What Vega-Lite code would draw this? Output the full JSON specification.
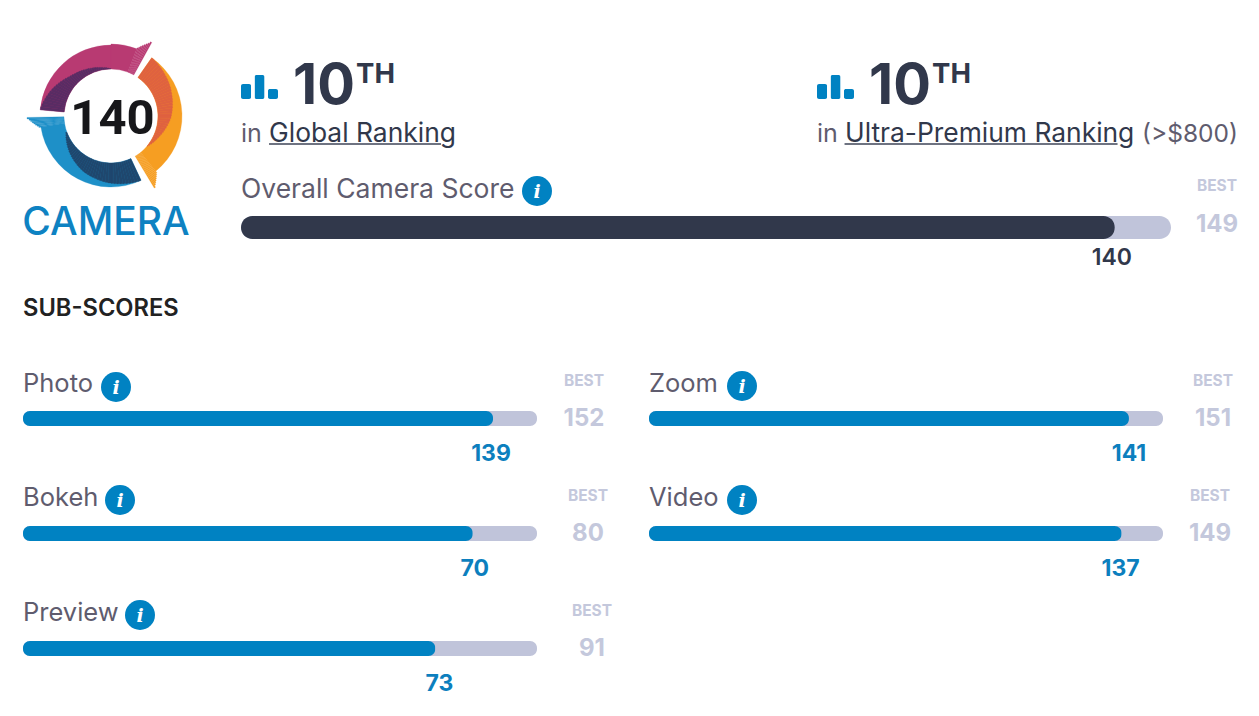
{"$schema":"https://vega.github.io/schema/vega-lite/v6.json","background":"white","padding":{"left":22,"top":28,"right":0,"bottom":0},"config":{"view":{"stroke":null},"text":{"font":"Inter","baseline":"alphabetic"}},"bounds":"flush","spacing":115,"vconcat":[
{"bounds":"flush","spacing":42,"hconcat":[
{"width":176,"height":176,"layer":[
{"data":{"values":[
{"part":"magenta","start":275,"end":360,"outer":71,"inner":47},{"part":"magenta","start":0,"end":21,"outer":72,"inner":47},{"part":"magenta","start":21,"end":22,"outer":73,"inner":47},{"part":"magenta","start":22,"end":23,"outer":74.5,"inner":47},{"part":"magenta","start":23,"end":24,"outer":76,"inner":47},{"part":"magenta","start":24,"end":25,"outer":77.5,"inner":47},{"part":"magenta","start":25,"end":26,"outer":79,"inner":47},{"part":"magenta","start":26,"end":27,"outer":80.5,"inner":47},{"part":"magenta","start":27,"end":28,"outer":82,"inner":47},{"part":"magenta","start":28,"end":29,"outer":84,"inner":47},
{"part":"orange","start":35,"end":141,"outer":71,"inner":47},{"part":"orange","start":141,"end":142,"outer":73,"inner":47},{"part":"orange","start":142,"end":143,"outer":74.5,"inner":47},{"part":"orange","start":143,"end":144,"outer":76,"inner":47},{"part":"orange","start":144,"end":145,"outer":77.5,"inner":47},{"part":"orange","start":145,"end":146,"outer":79,"inner":47},{"part":"orange","start":146,"end":147,"outer":80.5,"inner":47},{"part":"orange","start":147,"end":148,"outer":82,"inner":47},{"part":"orange","start":148,"end":149,"outer":84,"inner":47},
{"part":"blue","start":155,"end":261,"outer":71,"inner":47},{"part":"blue","start":261,"end":262,"outer":73,"inner":47},{"part":"blue","start":262,"end":263,"outer":74.5,"inner":47},{"part":"blue","start":263,"end":264,"outer":76,"inner":47},{"part":"blue","start":264,"end":265,"outer":77.5,"inner":47},{"part":"blue","start":265,"end":266,"outer":79,"inner":47},{"part":"blue","start":266,"end":267,"outer":80.5,"inner":47},{"part":"blue","start":267,"end":268,"outer":82,"inner":47},{"part":"blue","start":268,"end":269,"outer":84,"inner":47},
{"part":"purple","start":275,"end":277.5,"outer":71,"inner":47},{"part":"purple","start":277.5,"end":280,"outer":70.1,"inner":47},{"part":"purple","start":280,"end":282.5,"outer":69.3,"inner":47},{"part":"purple","start":282.5,"end":285,"outer":68.4,"inner":47},{"part":"purple","start":285,"end":287.5,"outer":67.6,"inner":47},{"part":"purple","start":287.5,"end":290,"outer":66.7,"inner":47},{"part":"purple","start":290,"end":292.5,"outer":65.9,"inner":47},{"part":"purple","start":292.5,"end":295,"outer":64.9,"inner":47},{"part":"purple","start":295,"end":297.5,"outer":64,"inner":47},{"part":"purple","start":297.5,"end":300,"outer":63,"inner":47},{"part":"purple","start":300,"end":302.5,"outer":62,"inner":47},{"part":"purple","start":302.5,"end":305,"outer":61.1,"inner":47},{"part":"purple","start":305,"end":307.5,"outer":60.1,"inner":47},{"part":"purple","start":307.5,"end":310,"outer":59.1,"inner":47},{"part":"purple","start":310,"end":312.5,"outer":58.2,"inner":47},{"part":"purple","start":312.5,"end":315,"outer":57.2,"inner":47},{"part":"purple","start":315,"end":317.5,"outer":56.5,"inner":47},{"part":"purple","start":317.5,"end":320,"outer":55.9,"inner":47},{"part":"purple","start":320,"end":322.5,"outer":55.4,"inner":47},{"part":"purple","start":322.5,"end":325,"outer":54.8,"inner":47},{"part":"purple","start":325,"end":327.5,"outer":54.3,"inner":47},{"part":"purple","start":327.5,"end":330,"outer":53.7,"inner":47},{"part":"purple","start":330,"end":332.5,"outer":53.1,"inner":47},{"part":"purple","start":332.5,"end":335,"outer":52.6,"inner":47},{"part":"purple","start":335,"end":337.5,"outer":52,"inner":47},{"part":"purple","start":337.5,"end":340,"outer":51.5,"inner":47},{"part":"purple","start":340,"end":342.5,"outer":51,"inner":47},{"part":"purple","start":342.5,"end":345,"outer":50.5,"inner":47},{"part":"purple","start":345,"end":347.5,"outer":50,"inner":47},{"part":"purple","start":347.5,"end":350,"outer":49.5,"inner":47},{"part":"purple","start":350,"end":352.5,"outer":49,"inner":47},{"part":"purple","start":352.5,"end":355,"outer":48.6,"inner":47},{"part":"purple","start":355,"end":357.5,"outer":48.1,"inner":47},{"part":"purple","start":357.5,"end":360,"outer":47.5,"inner":47},
{"part":"coral","start":35,"end":37.5,"outer":71,"inner":47},{"part":"coral","start":37.5,"end":40,"outer":70.5,"inner":47},{"part":"coral","start":40,"end":42.5,"outer":70.1,"inner":47},{"part":"coral","start":42.5,"end":45,"outer":69.6,"inner":47},{"part":"coral","start":45,"end":47.5,"outer":69.2,"inner":47},{"part":"coral","start":47.5,"end":50,"outer":68.7,"inner":47},{"part":"coral","start":50,"end":52.5,"outer":68.3,"inner":47},{"part":"coral","start":52.5,"end":55,"outer":67.8,"inner":47},{"part":"coral","start":55,"end":57.5,"outer":67.4,"inner":47},{"part":"coral","start":57.5,"end":60,"outer":66.9,"inner":47},{"part":"coral","start":60,"end":62.5,"outer":66.5,"inner":47},{"part":"coral","start":62.5,"end":65,"outer":66,"inner":47},{"part":"coral","start":65,"end":67.5,"outer":65.4,"inner":47},{"part":"coral","start":67.5,"end":70,"outer":64.9,"inner":47},{"part":"coral","start":70,"end":72.5,"outer":64.3,"inner":47},{"part":"coral","start":72.5,"end":75,"outer":63.8,"inner":47},{"part":"coral","start":75,"end":77.5,"outer":63.3,"inner":47},{"part":"coral","start":77.5,"end":80,"outer":62.7,"inner":47},{"part":"coral","start":80,"end":82.5,"outer":62.2,"inner":47},{"part":"coral","start":82.5,"end":85,"outer":61.6,"inner":47},{"part":"coral","start":85,"end":87.5,"outer":61.1,"inner":47},{"part":"coral","start":87.5,"end":90,"outer":60.5,"inner":47},{"part":"coral","start":90,"end":92.5,"outer":60,"inner":47},{"part":"coral","start":92.5,"end":95,"outer":59.1,"inner":47},{"part":"coral","start":95,"end":97.5,"outer":58.3,"inner":47},{"part":"coral","start":97.5,"end":100,"outer":57.4,"inner":47},{"part":"coral","start":100,"end":102.5,"outer":56.5,"inner":47},{"part":"coral","start":102.5,"end":105,"outer":55.6,"inner":47},{"part":"coral","start":105,"end":107.5,"outer":54.8,"inner":47},{"part":"coral","start":107.5,"end":110,"outer":53.9,"inner":47},{"part":"coral","start":110,"end":112.5,"outer":53,"inner":47},{"part":"coral","start":112.5,"end":115,"outer":52.2,"inner":47},{"part":"coral","start":115,"end":117.5,"outer":51.5,"inner":47},{"part":"coral","start":117.5,"end":120,"outer":50.7,"inner":47},{"part":"coral","start":120,"end":122.5,"outer":50,"inner":47},{"part":"coral","start":122.5,"end":125,"outer":49.2,"inner":47},{"part":"coral","start":125,"end":127.5,"outer":48.4,"inner":47},{"part":"coral","start":127.5,"end":130,"outer":47.6,"inner":47},
{"part":"navy","start":155,"end":157.5,"outer":71,"inner":47},{"part":"navy","start":157.5,"end":160,"outer":70.6,"inner":47},{"part":"navy","start":160,"end":162.5,"outer":70.2,"inner":47},{"part":"navy","start":162.5,"end":165,"outer":69.8,"inner":47},{"part":"navy","start":165,"end":167.5,"outer":69.4,"inner":47},{"part":"navy","start":167.5,"end":170,"outer":69,"inner":47},{"part":"navy","start":170,"end":172.5,"outer":68.6,"inner":47},{"part":"navy","start":172.5,"end":175,"outer":68.2,"inner":47},{"part":"navy","start":175,"end":177.5,"outer":67.8,"inner":47},{"part":"navy","start":177.5,"end":180,"outer":67.4,"inner":47},{"part":"navy","start":180,"end":182.5,"outer":67,"inner":47},{"part":"navy","start":182.5,"end":185,"outer":66.5,"inner":47},{"part":"navy","start":185,"end":187.5,"outer":66,"inner":47},{"part":"navy","start":187.5,"end":190,"outer":65.5,"inner":47},{"part":"navy","start":190,"end":192.5,"outer":65,"inner":47},{"part":"navy","start":192.5,"end":195,"outer":64.5,"inner":47},{"part":"navy","start":195,"end":197.5,"outer":64,"inner":47},{"part":"navy","start":197.5,"end":200,"outer":63.5,"inner":47},{"part":"navy","start":200,"end":202.5,"outer":63,"inner":47},{"part":"navy","start":202.5,"end":205,"outer":62.5,"inner":47},{"part":"navy","start":205,"end":207.5,"outer":62,"inner":47},{"part":"navy","start":207.5,"end":210,"outer":61.3,"inner":47},{"part":"navy","start":210,"end":212.5,"outer":60.5,"inner":47},{"part":"navy","start":212.5,"end":215,"outer":59.8,"inner":47},{"part":"navy","start":215,"end":217.5,"outer":59,"inner":47},{"part":"navy","start":217.5,"end":220,"outer":58.3,"inner":47},{"part":"navy","start":220,"end":222.5,"outer":57.5,"inner":47},{"part":"navy","start":222.5,"end":225,"outer":56.8,"inner":47},{"part":"navy","start":225,"end":227.5,"outer":56,"inner":47},{"part":"navy","start":227.5,"end":230,"outer":55.2,"inner":47},{"part":"navy","start":230,"end":232.5,"outer":54.3,"inner":47},{"part":"navy","start":232.5,"end":235,"outer":53.5,"inner":47},{"part":"navy","start":235,"end":237.5,"outer":52.6,"inner":47},{"part":"navy","start":237.5,"end":240,"outer":51.8,"inner":47},{"part":"navy","start":240,"end":242.5,"outer":50.9,"inner":47},{"part":"navy","start":242.5,"end":245,"outer":50.1,"inner":47},{"part":"navy","start":245,"end":247.5,"outer":49.2,"inner":47},{"part":"navy","start":247.5,"end":250,"outer":48.4,"inner":47}
]},"mark":{"type":"arc","strokeWidth":0.3},"encoding":{"theta":{"field":"start","type":"quantitative","scale":{"domain":[0,360],"range":[0,6.283185]}},"theta2":{"field":"end"},"radius":{"field":"outer","type":"quantitative","scale":{"type":"linear","domain":[0,88],"range":[0,88]}},"radius2":{"field":"inner"},"color":{"field":"part","type":"nominal","legend":null,"scale":{"domain":["magenta","orange","blue","purple","coral","navy"],"range":["#B83A72","#F69E22","#1E90C8","#592C64","#DF6240","#1F476E"]}},"stroke":{"field":"part","type":"nominal","legend":null,"scale":{"domain":["magenta","orange","blue","purple","coral","navy"],"range":["#B83A72","#F69E22","#1E90C8","#592C64","#DF6240","#1F476E"]}}}},
{"data":{"values":[{"label":"140"}]},"mark":{"type":"text","font":"Roboto","fontWeight":700,"fontSize":49,"dy":18,"dx":1.5,"fill":"#17171A"},"encoding":{"text":{"field":"label"}}},
{"data":{"values":[{"label":"CAMERA"}]},"mark":{"type":"text","fontWeight":500,"fontSize":39,"dy":119,"dx":-5,"fill":"#0E82C2"},"encoding":{"text":{"field":"label"}}}
]},
{"bounds":"flush","spacing":188,"vconcat":[
{"bounds":"flush","spacing":539,"hconcat":[
{"width":37,"height":71,"layer":[
{"data":{"values":[{"step":1,"level":15},{"step":2,"level":24},{"step":3,"level":10}]},"mark":{"type":"bar","color":"#0082C2","cornerRadius":2},"encoding":{"x":{"field":"step","type":"ordinal","axis":null,"scale":{"type":"band","domain":[1,2,3],"paddingInner":0.25,"paddingOuter":0}},"y":{"field":"level","type":"quantitative","axis":null,"scale":{"domain":[0,71],"nice":false}}}},
{"data":{"values":[{"label":"10"}]},"mark":{"type":"text","align":"left","fontWeight":700,"fontSize":56,"dx":47,"dy":5,"fill":"#31384B"},"encoding":{"x":{"datum":1,"type":"ordinal"},"y":{"datum":0,"type":"quantitative"},"text":{"field":"label"}}},
{"data":{"values":[{"label":"TH"}]},"mark":{"type":"text","align":"left","fontWeight":700,"fontSize":27.5,"dx":110,"dy":-16,"fill":"#31384B"},"encoding":{"x":{"datum":1,"type":"ordinal"},"y":{"datum":0,"type":"quantitative"},"text":{"field":"label"}}},
{"data":{"values":[{"label":"in"}]},"mark":{"type":"text","align":"left","fontSize":25,"dx":-5,"dy":43,"fill":"#5F5C6E"},"encoding":{"x":{"datum":1,"type":"ordinal"},"y":{"datum":0,"type":"quantitative"},"text":{"field":"label"}}},
{"data":{"values":[{"label":"Global Ranking"}]},"mark":{"type":"text","align":"left","fontSize":26.4,"dx":23,"dy":43,"fill":"#31384B"},"encoding":{"x":{"datum":1,"type":"ordinal"},"y":{"datum":0,"type":"quantitative"},"text":{"field":"label"}}},
{"data":{"values":[{"label":"underline"}]},"mark":{"type":"tick","orient":"horizontal","size":172,"thickness":2,"xOffset":109,"yOffset":45,"color":"#31384B"},"encoding":{"x":{"datum":1,"type":"ordinal"},"y":{"datum":0,"type":"quantitative"}}}
]},
{"width":37,"height":71,"layer":[
{"data":{"values":[{"step":1,"level":15},{"step":2,"level":24},{"step":3,"level":10}]},"mark":{"type":"bar","color":"#0082C2","cornerRadius":2},"encoding":{"x":{"field":"step","type":"ordinal","axis":null,"scale":{"type":"band","domain":[1,2,3],"paddingInner":0.25,"paddingOuter":0}},"y":{"field":"level","type":"quantitative","axis":null,"scale":{"domain":[0,71],"nice":false}}}},
{"data":{"values":[{"label":"10"}]},"mark":{"type":"text","align":"left","fontWeight":700,"fontSize":56,"dx":47,"dy":5,"fill":"#31384B"},"encoding":{"x":{"datum":1,"type":"ordinal"},"y":{"datum":0,"type":"quantitative"},"text":{"field":"label"}}},
{"data":{"values":[{"label":"TH"}]},"mark":{"type":"text","align":"left","fontWeight":700,"fontSize":27.5,"dx":110,"dy":-16,"fill":"#31384B"},"encoding":{"x":{"datum":1,"type":"ordinal"},"y":{"datum":0,"type":"quantitative"},"text":{"field":"label"}}},
{"data":{"values":[{"label":"in"}]},"mark":{"type":"text","align":"left","fontSize":25,"dx":-5,"dy":43,"fill":"#5F5C6E"},"encoding":{"x":{"datum":1,"type":"ordinal"},"y":{"datum":0,"type":"quantitative"},"text":{"field":"label"}}},
{"data":{"values":[{"label":"Ultra-Premium Ranking"}]},"mark":{"type":"text","align":"left","fontSize":26.4,"dx":23,"dy":43,"fill":"#31384B"},"encoding":{"x":{"datum":1,"type":"ordinal"},"y":{"datum":0,"type":"quantitative"},"text":{"field":"label"}}},
{"data":{"values":[{"label":"(>$800)"}]},"mark":{"type":"text","align":"left","fontSize":24.5,"dx":320,"dy":43,"fill":"#5F5C6E"},"encoding":{"x":{"datum":1,"type":"ordinal"},"y":{"datum":0,"type":"quantitative"},"text":{"field":"label"}}},
{"data":{"values":[{"label":"underline"}]},"mark":{"type":"tick","orient":"horizontal","size":273,"thickness":2,"xOffset":159,"yOffset":45,"color":"#31384B"},"encoding":{"x":{"datum":1,"type":"ordinal"},"y":{"datum":0,"type":"quantitative"}}}
]}
]},
{"width":930,"height":23,"data":{"values":[{"name":"Overall Camera Score","score":140,"best":149}]},"layer":[
{"mark":{"type":"bar","size":23,"cornerRadius":11.5,"color":"#C0C4DA"},"encoding":{"x":{"field":"best","type":"quantitative","axis":null,"scale":{"domain":[0,149],"nice":false}}}},
{"mark":{"type":"bar","size":23,"cornerRadius":11.5,"color":"#31384B"},"encoding":{"x":{"field":"score","type":"quantitative"}}},
{"mark":{"type":"text","align":"left","fontSize":26.5,"dy":-30,"fill":"#5F5C6E"},"encoding":{"x":{"datum":0,"type":"quantitative"},"text":{"field":"name"}}},
{"mark":{"type":"point","filled":true,"size":900,"opacity":1,"color":"#0082C2","xOffset":296,"yOffset":-36.5},"encoding":{"x":{"datum":0,"type":"quantitative"}}},
{"mark":{"type":"text","text":"i","font":"DejaVu Serif","fontStyle":"italic","fontWeight":700,"fontSize":19,"fill":"white","dx":296,"dy":-30},"encoding":{"x":{"datum":0,"type":"quantitative"}}},
{"mark":{"type":"text","text":"BEST","fontWeight":700,"fontSize":15.5,"dx":46,"dy":-37,"fill":"#C4C8DC"},"encoding":{"x":{"field":"best","type":"quantitative"}}},
{"mark":{"type":"text","fontWeight":700,"fontSize":24,"dx":46,"dy":4.5,"fill":"#C4C8DC"},"encoding":{"x":{"field":"best","type":"quantitative"},"text":{"field":"best"}}},
{"mark":{"type":"text","fontWeight":600,"fontSize":23,"dx":-3,"dy":37,"fill":"#31384B"},"encoding":{"x":{"field":"score","type":"quantitative"},"text":{"field":"score"}}}
]}
]}
]},
{"width":1,"height":153,"data":{"values":[{"label":"SUB-SCORES"}]},"mark":{"type":"text","align":"left","fontWeight":600,"fontSize":23.7,"dy":96.5,"fill":"#222222"},"encoding":{"x":{"datum":0,"type":"quantitative","axis":null,"scale":{"domain":[0,1]}},"text":{"field":"label"}}},
{"bounds":"flush","spacing":112,"hconcat":[
{"width":514,"height":15,"data":{"values":[{"name":"Photo","score":139,"best":152}]},"layer":[
{"mark":{"type":"bar","size":15,"cornerRadius":7,"color":"#C0C4DA"},"encoding":{"x":{"field":"best","type":"quantitative","axis":null,"scale":{"domain":[0,152],"nice":false}}}},
{"mark":{"type":"bar","size":15,"cornerRadius":7,"color":"#0082C2"},"encoding":{"x":{"field":"score","type":"quantitative"}}},
{"mark":{"type":"text","align":"left","fontSize":25.5,"dy":-26.5,"fill":"#5F5C6E"},"encoding":{"x":{"datum":0,"type":"quantitative"},"text":{"field":"name"}}},
{"mark":{"type":"point","filled":true,"size":900,"opacity":1,"color":"#0082C2","xOffset":93,"yOffset":-31.5},"encoding":{"x":{"datum":0,"type":"quantitative"}}},
{"mark":{"type":"text","text":"i","font":"DejaVu Serif","fontStyle":"italic","fontWeight":700,"fontSize":19,"fill":"white","dx":93,"dy":-25},"encoding":{"x":{"datum":0,"type":"quantitative"}}},
{"mark":{"type":"text","text":"BEST","fontWeight":700,"fontSize":15.5,"dx":47,"dy":-33,"fill":"#C4C8DC"},"encoding":{"x":{"field":"best","type":"quantitative"}}},
{"mark":{"type":"text","fontWeight":700,"fontSize":24,"dx":47,"dy":7.5,"fill":"#C4C8DC"},"encoding":{"x":{"field":"best","type":"quantitative"},"text":{"field":"best"}}},
{"mark":{"type":"text","fontWeight":700,"fontSize":23,"dx":-2,"dy":42.5,"fill":"#0C7FBE"},"encoding":{"x":{"field":"score","type":"quantitative"},"text":{"field":"score"}}}
]},
{"width":514,"height":15,"data":{"values":[{"name":"Zoom","score":141,"best":151}]},"layer":[
{"mark":{"type":"bar","size":15,"cornerRadius":7,"color":"#C0C4DA"},"encoding":{"x":{"field":"best","type":"quantitative","axis":null,"scale":{"domain":[0,151],"nice":false}}}},
{"mark":{"type":"bar","size":15,"cornerRadius":7,"color":"#0082C2"},"encoding":{"x":{"field":"score","type":"quantitative"}}},
{"mark":{"type":"text","align":"left","fontSize":25.5,"dy":-26.5,"fill":"#5F5C6E"},"encoding":{"x":{"datum":0,"type":"quantitative"},"text":{"field":"name"}}},
{"mark":{"type":"point","filled":true,"size":900,"opacity":1,"color":"#0082C2","xOffset":93,"yOffset":-32.5},"encoding":{"x":{"datum":0,"type":"quantitative"}}},
{"mark":{"type":"text","text":"i","font":"DejaVu Serif","fontStyle":"italic","fontWeight":700,"fontSize":19,"fill":"white","dx":93,"dy":-26},"encoding":{"x":{"datum":0,"type":"quantitative"}}},
{"mark":{"type":"text","text":"BEST","fontWeight":700,"fontSize":15.5,"dx":50,"dy":-33,"fill":"#C4C8DC"},"encoding":{"x":{"field":"best","type":"quantitative"}}},
{"mark":{"type":"text","fontWeight":700,"fontSize":24,"dx":50,"dy":7.5,"fill":"#C4C8DC"},"encoding":{"x":{"field":"best","type":"quantitative"},"text":{"field":"best"}}},
{"mark":{"type":"text","fontWeight":700,"fontSize":23,"dx":0,"dy":42.5,"fill":"#0C7FBE"},"encoding":{"x":{"field":"score","type":"quantitative"},"text":{"field":"score"}}}
]}
]},
{"bounds":"flush","spacing":112,"hconcat":[
{"width":514,"height":15,"data":{"values":[{"name":"Bokeh","score":70,"best":80}]},"layer":[
{"mark":{"type":"bar","size":15,"cornerRadius":7,"color":"#C0C4DA"},"encoding":{"x":{"field":"best","type":"quantitative","axis":null,"scale":{"domain":[0,80],"nice":false}}}},
{"mark":{"type":"bar","size":15,"cornerRadius":7,"color":"#0082C2"},"encoding":{"x":{"field":"score","type":"quantitative"}}},
{"mark":{"type":"text","align":"left","fontSize":25.5,"dy":-27.5,"fill":"#5F5C6E"},"encoding":{"x":{"datum":0,"type":"quantitative"},"text":{"field":"name"}}},
{"mark":{"type":"point","filled":true,"size":900,"opacity":1,"color":"#0082C2","xOffset":97,"yOffset":-33.5},"encoding":{"x":{"datum":0,"type":"quantitative"}}},
{"mark":{"type":"text","text":"i","font":"DejaVu Serif","fontStyle":"italic","fontWeight":700,"fontSize":19,"fill":"white","dx":97,"dy":-27},"encoding":{"x":{"datum":0,"type":"quantitative"}}},
{"mark":{"type":"text","text":"BEST","fontWeight":700,"fontSize":15.5,"dx":51,"dy":-33,"fill":"#C4C8DC"},"encoding":{"x":{"field":"best","type":"quantitative"}}},
{"mark":{"type":"text","fontWeight":700,"fontSize":24,"dx":51,"dy":7.5,"fill":"#C4C8DC"},"encoding":{"x":{"field":"best","type":"quantitative"},"text":{"field":"best"}}},
{"mark":{"type":"text","fontWeight":700,"fontSize":23,"dx":2,"dy":42.5,"fill":"#0C7FBE"},"encoding":{"x":{"field":"score","type":"quantitative"},"text":{"field":"score"}}}
]},
{"width":514,"height":15,"data":{"values":[{"name":"Video","score":137,"best":149}]},"layer":[
{"mark":{"type":"bar","size":15,"cornerRadius":7,"color":"#C0C4DA"},"encoding":{"x":{"field":"best","type":"quantitative","axis":null,"scale":{"domain":[0,149],"nice":false}}}},
{"mark":{"type":"bar","size":15,"cornerRadius":7,"color":"#0082C2"},"encoding":{"x":{"field":"score","type":"quantitative"}}},
{"mark":{"type":"text","align":"left","fontSize":25.5,"dy":-27.5,"fill":"#5F5C6E"},"encoding":{"x":{"datum":0,"type":"quantitative"},"text":{"field":"name"}}},
{"mark":{"type":"point","filled":true,"size":900,"opacity":1,"color":"#0082C2","xOffset":93,"yOffset":-33.5},"encoding":{"x":{"datum":0,"type":"quantitative"}}},
{"mark":{"type":"text","text":"i","font":"DejaVu Serif","fontStyle":"italic","fontWeight":700,"fontSize":19,"fill":"white","dx":93,"dy":-27},"encoding":{"x":{"datum":0,"type":"quantitative"}}},
{"mark":{"type":"text","text":"BEST","fontWeight":700,"fontSize":15.5,"dx":47,"dy":-33,"fill":"#C4C8DC"},"encoding":{"x":{"field":"best","type":"quantitative"}}},
{"mark":{"type":"text","fontWeight":700,"fontSize":24,"dx":47,"dy":7.5,"fill":"#C4C8DC"},"encoding":{"x":{"field":"best","type":"quantitative"},"text":{"field":"best"}}},
{"mark":{"type":"text","fontWeight":700,"fontSize":23,"dx":-1,"dy":42.5,"fill":"#0C7FBE"},"encoding":{"x":{"field":"score","type":"quantitative"},"text":{"field":"score"}}}
]}
]},
{"width":514,"height":15,"data":{"values":[{"name":"Preview","score":73,"best":91}]},"layer":[
{"mark":{"type":"bar","size":15,"cornerRadius":7,"color":"#C0C4DA"},"encoding":{"x":{"field":"best","type":"quantitative","axis":null,"scale":{"domain":[0,91],"nice":false}}}},
{"mark":{"type":"bar","size":15,"cornerRadius":7,"color":"#0082C2"},"encoding":{"x":{"field":"score","type":"quantitative"}}},
{"mark":{"type":"text","align":"left","fontSize":25.5,"dy":-27.5,"fill":"#5F5C6E"},"encoding":{"x":{"datum":0,"type":"quantitative"},"text":{"field":"name"}}},
{"mark":{"type":"point","filled":true,"size":900,"opacity":1,"color":"#0082C2","xOffset":117,"yOffset":-33.5},"encoding":{"x":{"datum":0,"type":"quantitative"}}},
{"mark":{"type":"text","text":"i","font":"DejaVu Serif","fontStyle":"italic","fontWeight":700,"fontSize":19,"fill":"white","dx":117,"dy":-27},"encoding":{"x":{"datum":0,"type":"quantitative"}}},
{"mark":{"type":"text","text":"BEST","fontWeight":700,"fontSize":15.5,"dx":55,"dy":-33,"fill":"#C4C8DC"},"encoding":{"x":{"field":"best","type":"quantitative"}}},
{"mark":{"type":"text","fontWeight":700,"fontSize":24,"dx":55,"dy":7.5,"fill":"#C4C8DC"},"encoding":{"x":{"field":"best","type":"quantitative"},"text":{"field":"best"}}},
{"mark":{"type":"text","fontWeight":700,"fontSize":23,"dx":4,"dy":42.5,"fill":"#0C7FBE"},"encoding":{"x":{"field":"score","type":"quantitative"},"text":{"field":"score"}}}
]}
]}
